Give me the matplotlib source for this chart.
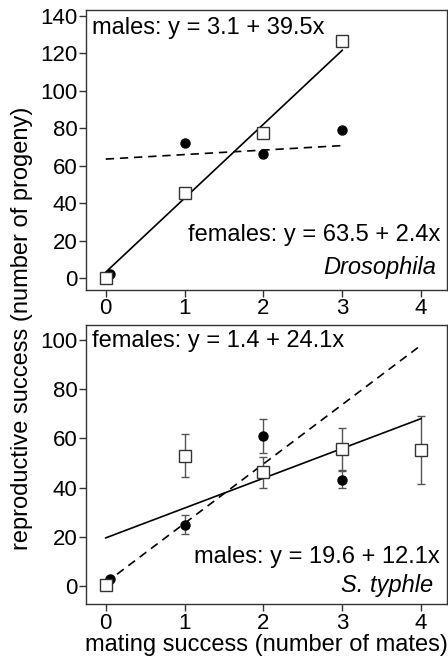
import numpy as np
import matplotlib
matplotlib.use("Agg")
import matplotlib.pyplot as plt

plt.rcParams['font.family'] = ['Liberation Sans', 'DejaVu Sans']

# Drosophila
dro_x_m = [0, 1, 2, 3]
dro_y_m = [0, 45.5, 77.5, 126.5]
dro_x_f = [0.06, 1, 2, 3]
dro_y_f = [2, 72, 66, 79]
dro_fit_m = (3.1, 39.5)
dro_fit_f = (63.5, 2.4)

# S. typhle
sty_x_m = [0, 1, 2, 3, 4]
sty_y_m = [0.5, 53, 46.3, 55.6, 55.3]
sty_e_m = [0, 8.6, 6.3, 8.5, 13.7]
sty_x_f = [0.06, 1, 2, 3]
sty_y_f = [2.8, 25, 61, 43.2]
sty_e_f = [0, 3.8, 6.9, 3.4]
sty_fit_m = (19.6, 12.1)
sty_fit_f = (1.4, 24.1)

fig = plt.figure(figsize=(4.48, 6.56), dpi=100)
ax1 = fig.add_axes([0.192, 0.558, 0.806, 0.427])
ax2 = fig.add_axes([0.192, 0.079, 0.806, 0.426])

fs = 17    # annotation / label text
tfs = 16   # tick labels
dash = (0, (5, 3.5))


def style(ax):
    for s in ax.spines.values():
        s.set_linewidth(1.0)
        s.set_color('#333333')
    ax.tick_params(direction='out', length=5, width=1, color='#333333',
                   labelsize=tfs, pad=1)
    ax.set_xticks([0, 1, 2, 3, 4])
    ax.set_xlim(-0.25, 4.33)


# top panel
xs = np.array([0, 3])
ax1.plot(xs, dro_fit_m[0] + dro_fit_m[1] * xs, color='black', lw=1.2)
ax1.plot(xs, dro_fit_f[0] + dro_fit_f[1] * xs, color='black', lw=1.2, linestyle=dash)
ax1.plot(dro_x_f, dro_y_f, 'o', color='black', ms=6.5, zorder=3)
ax1.plot(dro_x_m, dro_y_m, 's', mfc='white', mec='#333333', mew=1, ms=8, zorder=4)
ax1.set_ylim(-6.4, 143.2)
ax1.set_yticks(range(0, 141, 20))
style(ax1)
ax1.text(0.017, 0.975, 'males: y = 3.1 + 39.5x', transform=ax1.transAxes,
         fontsize=fs, ha='left', va='top')
ax1.text(0.98, 0.195, 'females: y = 63.5 + 2.4x', transform=ax1.transAxes,
         fontsize=fs, ha='right', va='center')
ax1.text(0.97, 0.08, 'Drosophila', transform=ax1.transAxes, style='italic',
         fontsize=fs, ha='right', va='center')

# bottom panel
xs = np.array([0, 4])
ax2.errorbar(sty_x_m, sty_y_m, yerr=sty_e_m, fmt='none', ecolor='#555555',
             elinewidth=1, capsize=3, zorder=2)
ax2.errorbar(sty_x_f, sty_y_f, yerr=sty_e_f, fmt='none', ecolor='#555555',
             elinewidth=1, capsize=3, zorder=2)
ax2.plot(xs, sty_fit_m[0] + sty_fit_m[1] * xs, color='black', lw=1.2)
ax2.plot(xs, sty_fit_f[0] + sty_fit_f[1] * xs, color='black', lw=1.2, linestyle=dash)
ax2.plot(sty_x_f, sty_y_f, 'o', color='black', ms=6.5, zorder=3)
ax2.plot(sty_x_m, sty_y_m, 's', mfc='white', mec='#333333', mew=1, ms=8, zorder=4)
ax2.set_ylim(-7.3, 106.1)
ax2.set_yticks(range(0, 101, 20))
style(ax2)
ax2.text(0.017, 0.94, 'females: y = 1.4 + 24.1x', transform=ax2.transAxes,
         fontsize=fs, ha='left', va='center')
ax2.text(0.98, 0.168, 'males: y = 19.6 + 12.1x', transform=ax2.transAxes,
         fontsize=fs, ha='right', va='center')
ax2.text(0.96, 0.068, 'S. typhle', transform=ax2.transAxes, style='italic',
         fontsize=fs, ha='right', va='center')
ax2.set_xlabel('mating success (number of mates)', fontsize=fs, labelpad=0)

fig.text(0.05, 0.5, 'reproductive success (number of progeny)', rotation=90,
         fontsize=fs, ha='center', va='center')

fig.savefig('out.png', dpi=100)
